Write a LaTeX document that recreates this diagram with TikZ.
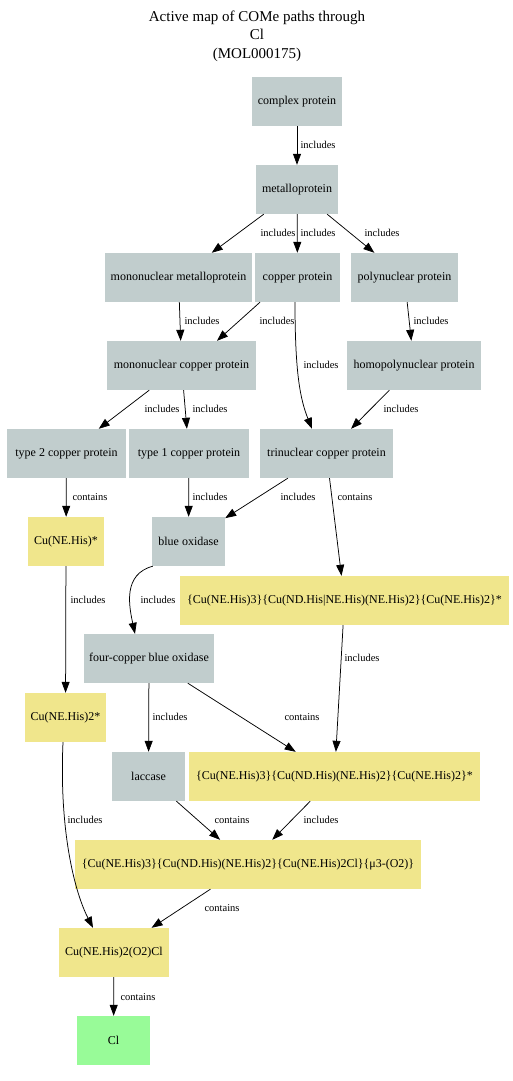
\documentclass[tikz,border=0pt]{standalone}
\usepackage{fontspec}
\setmainfont{Liberation Serif}
\usetikzlibrary{arrows.meta}
\definecolor{gcol}{HTML}{C1CDCD}
\definecolor{ycol}{HTML}{F0E68C}
\definecolor{grcol}{HTML}{98FB98}
\tikzset{
 box/.style={draw=none, inner sep=0pt, minimum height=49pt, font=\fontsize{12}{14}\selectfont},
 gbox/.style={box, fill=gcol},
 ybox/.style={box, fill=ycol},
 grbox/.style={box, fill=grcol},
 lbl/.style={font=\fontsize{10.5}{12}\selectfont, inner sep=0pt},
 conn/.style={-{Triangle[length=11pt,width=8pt]}, line width=0.75pt}
}
\begin{document}
\begin{tikzpicture}[x=1pt,y=-1pt]
\useasboundingbox (0,0) rectangle (513,1081);
\node[align=center, font=\fontsize{15}{18.5}\selectfont] (title) at (257,36) {Active map of COMe paths through\\Cl\\(MOL000175)};
% nodes
\node[gbox, minimum width=90pt] (cp) at (297,101.5) {complex protein};
\node[gbox, minimum width=82pt] (mp) at (297,189.5) {metalloprotein};
\node[gbox, minimum width=147pt] (mmp) at (178.5,277.5) {mononuclear metalloprotein};
\node[gbox, minimum width=85pt] (cup) at (297.5,277.5) {copper protein};
\node[gbox, minimum width=107pt] (pp) at (404.5,277.5) {polynuclear protein};
\node[gbox, minimum width=149pt] (mcp) at (181.5,365.5) {mononuclear copper protein};
\node[gbox, minimum width=134pt] (hp) at (414,365.5) {homopolynuclear protein};
\node[gbox, minimum width=119pt] (t2) at (66.5,453.5) {type 2 copper protein};
\node[gbox, minimum width=120pt] (t1) at (189,453.5) {type 1 copper protein};
\node[gbox, minimum width=133pt] (tri) at (326.5,453.5) {trinuclear copper protein};
\node[ybox, minimum width=76pt] (cu1) at (66,541.5) {Cu(NE.His)*};
\node[gbox, minimum width=73pt] (bo) at (188.5,541.5) {blue oxidase};
\node[ybox, minimum width=329pt] (s1) at (344.5,600.5) {\{Cu(NE.His)3\}\{Cu(ND.His|NE.His)(NE.His)2\}\{Cu(NE.His)2\}*};
\node[gbox, minimum width=130pt] (fcbo) at (149,658.5) {four-copper blue oxidase};
\node[ybox, minimum width=81pt] (cu2) at (65.5,717.5) {Cu(NE.His)2*};
\node[gbox, minimum width=73pt] (lac) at (148.5,776.5) {laccase};
\node[ybox, minimum width=291pt] (s2) at (334.5,776.5) {\{Cu(NE.His)3\}\{Cu(ND.His)(NE.His)2\}\{Cu(NE.His)2\}*};
\node[ybox, minimum width=346pt] (s3) at (248,864.5) {\{Cu(NE.His)3\}\{Cu(ND.His)(NE.His)2\}\{Cu(NE.His)2Cl\}\{μ3-(O2)\}};
\node[ybox, minimum width=110pt] (o2cl) at (114,952.5) {Cu(NE.His)2(O2)Cl};
\node[grbox, minimum width=73pt] (cl) at (113.5,1040.5) {Cl};
% edges
\draw[conn] (cp) -- (mp);
\draw[conn] (mp) -- (mmp);
\draw[conn] (mp) -- (cup);
\draw[conn] (mp) -- (pp);
\draw[conn] (mmp) -- (mcp);
\draw[conn] ([xshift=-37.5pt]cup.south) -- ([xshift=35.5pt]mcp.north);
\draw[conn] ([xshift=-2.5pt]cup.south) .. controls +(0,70) and +(-12,-30) .. ([xshift=-14.5pt]tri.north);
\draw[conn] (pp) -- (hp);
\draw[conn] (mcp) -- (t2);
\draw[conn] (mcp) -- (t1);
\draw[conn] (hp) -- (tri);
\draw[conn] (t2) -- (cu1);
\draw[conn] (t1) -- (bo);
\draw[conn] (tri) -- (bo);
\draw[conn] (tri) -- (s1);
\draw[conn] (cu1) -- (cu2);
\draw[conn] ([xshift=1pt]bo.south west) .. controls +(-30,8) and +(-6,-28) .. ([xshift=-14pt]fcbo.north);
\draw[conn] (s1) -- (s2);
\draw[conn] (fcbo) -- (lac);
\draw[conn] (fcbo) -- (s2);
\draw[conn] ([xshift=-2.5pt]cu2.south) .. controls +(-4,90) and +(-18,-35) .. ([xshift=-21pt]o2cl.north);
\draw[conn] (lac) -- (s3);
\draw[conn] (s2) -- (s3);
\draw[conn] (s3) -- (o2cl);
\draw[conn] (o2cl) -- (cl);
% labels
\node[lbl] (l1) at (318,145) {includes};
\node[lbl] (l2) at (278,233) {includes};
\node[lbl] (l3) at (318,233) {includes};
\node[lbl] (l4) at (382,233) {includes};
\node[lbl] (l5) at (202,321) {includes};
\node[lbl] (l6) at (277,321) {includes};
\node[lbl] (l7) at (321,365) {includes};
\node[lbl] (l8) at (431,321) {includes};
\node[lbl] (l9) at (162,409) {includes};
\node[lbl] (l10) at (210,409) {includes};
\node[lbl] (l11) at (401,409) {includes};
\node[lbl] (l12) at (90,497) {contains};
\node[lbl] (l13) at (210,497) {includes};
\node[lbl] (l14) at (298,497) {includes};
\node[lbl] (l15) at (355,497) {contains};
\node[lbl] (l16) at (88,600) {includes};
\node[lbl] (l17) at (158,600) {includes};
\node[lbl] (l18) at (362,658) {includes};
\node[lbl] (l19) at (170,717) {includes};
\node[lbl] (l20) at (302,717) {contains};
\node[lbl] (l21) at (85,820) {includes};
\node[lbl] (l22) at (232,820) {contains};
\node[lbl] (l23) at (321,820) {includes};
\node[lbl] (l24) at (222,908) {contains};
\node[lbl] (l25) at (138,997) {contains};
\end{tikzpicture}
\end{document}
